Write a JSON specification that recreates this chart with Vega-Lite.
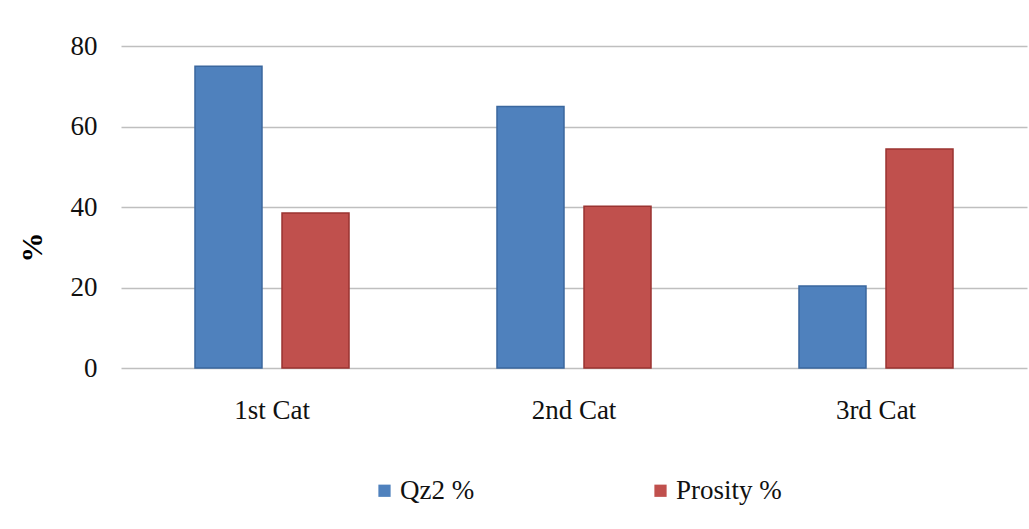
{
  "$schema": "https://vega.github.io/schema/vega-lite/v6.json",
  "autosize": {"type": "none"},
  "width": 906,
  "height": 322,
  "padding": {"left": 121, "top": 46, "right": 2, "bottom": 161},
  "background": "white",
  "config": {
    "view": {"stroke": null},
    "font": "Liberation Serif",
    "axis": {"labelFont": "Liberation Serif", "titleFont": "Liberation Serif"},
    "legend": {"labelFont": "Liberation Serif"}
  },
  "data": {
    "values": [
      {"cat": "1st Cat", "series": "Qz2 %", "value": 75},
      {"cat": "1st Cat", "series": "Prosity %", "value": 38.5},
      {"cat": "2nd Cat", "series": "Qz2 %", "value": 65},
      {"cat": "2nd Cat", "series": "Prosity %", "value": 40.2},
      {"cat": "3rd Cat", "series": "Qz2 %", "value": 20.4},
      {"cat": "3rd Cat", "series": "Prosity %", "value": 54.4}
    ]
  },
  "mark": {"type": "bar", "strokeWidth": 1.5},
  "encoding": {
    "x": {
      "field": "cat", "type": "nominal", "sort": null,
      "scale": {"paddingInner": 0.49, "paddingOuter": 0.245},
      "axis": {"title": null, "labelAngle": 0, "ticks": false, "domain": false,
               "labelFontSize": 27, "labelColor": "#111", "labelPadding": 29}
    },
    "xOffset": {
      "field": "series", "type": "nominal", "sort": ["Qz2 %", "Prosity %"],
      "scale": {"paddingInner": 0.23, "paddingOuter": 0}
    },
    "y": {
      "field": "value", "type": "quantitative",
      "scale": {"domain": [0, 80], "nice": false},
      "axis": {"title": "%", "titleFontSize": 30, "titleFontWeight": "bold", "titleColor": "#000",
               "titleX": -89, "titleY": 201, "titleAngle": -90, "titleAlign": "center", "titleBaseline": "middle",
               "values": [0, 20, 40, 60, 80], "ticks": false, "domain": false,
               "labelFontSize": 27, "labelColor": "#111", "labelPadding": 24,
               "gridColor": "#bfbfbf", "gridWidth": 1.5}
    },
    "color": {
      "field": "series", "type": "nominal",
      "scale": {"domain": ["Qz2 %", "Prosity %"], "range": ["#4f81bd", "#c0504d"]},
      "legend": {"title": null, "orient": "none", "direction": "horizontal",
                 "legendX": 250, "legendY": 431, "symbolType": "square", "symbolSize": 150,
                 "symbolStrokeWidth": 0, "labelFontSize": 27, "labelColor": "#111",
                 "columnPadding": 172, "labelOffset": 2, "symbolOpacity": 1}
    },
    "stroke": {
      "field": "series", "type": "nominal",
      "scale": {"domain": ["Qz2 %", "Prosity %"], "range": ["#3a679e", "#9a3331"]},
      "legend": null
    }
  }
}
